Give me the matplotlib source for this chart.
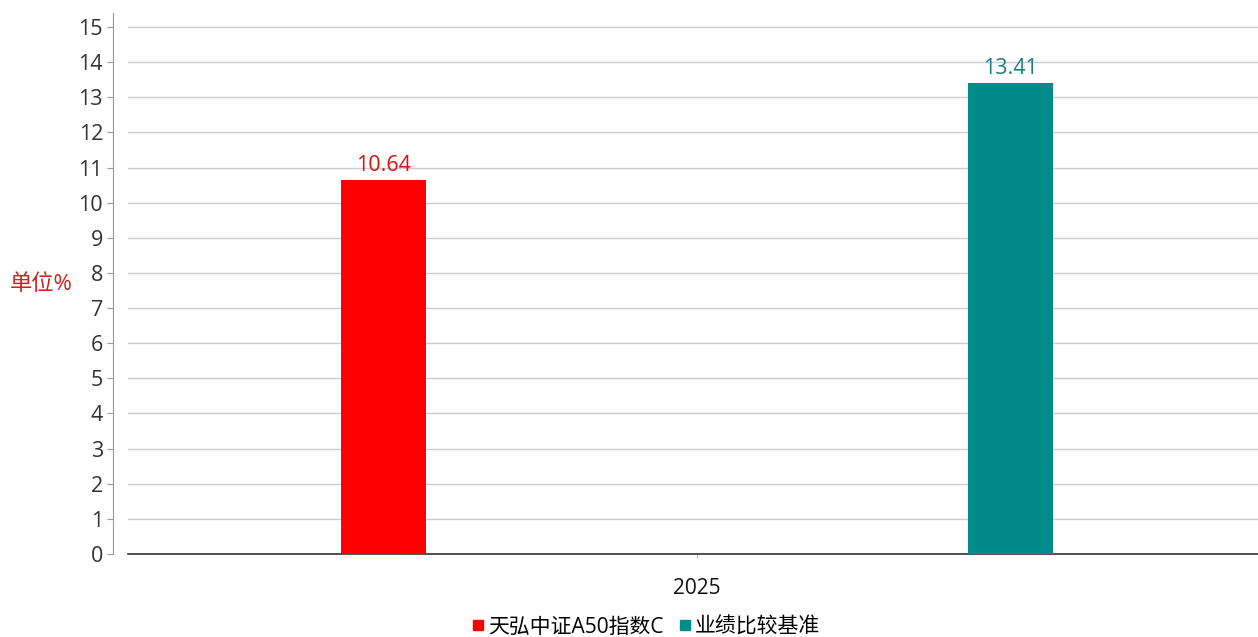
import matplotlib
matplotlib.use("Agg")
import matplotlib.pyplot as plt
from matplotlib.lines import Line2D

plt.rcParams['font.family'] = ['Open Sans', 'Noto Sans CJK SC', 'DejaVu Sans']

categories = ['2025']
series_names = ['天弘中证A50指数C', '业绩比较基准']
series_values = [[10.64], [13.41]]
series_colors = ['#ff0000', '#008b8b']
label_colors = ['#e01010', '#1a7f7f']
y_ticks = list(range(0, 16))

W, H = 1258, 637
fig = plt.figure(figsize=(W / 100, H / 100), dpi=100)
ax = fig.add_axes([128 / W, (H - 554) / H, (1258 - 128) / W, (554 - 13) / H])

offsets = [-0.2755, 0.2755]
bar_w = 0.0747
for i, (name, vals) in enumerate(zip(series_names, series_values)):
    xs = [j + offsets[i] for j in range(len(categories))]
    bars = ax.bar(xs, vals, width=bar_w, color=series_colors[i], label=name, zorder=3)
    for b, v in zip(bars, vals):
        ax.annotate(f'{v:.2f}', (b.get_x() + b.get_width() / 2, v), xytext=(0, 3),
                    textcoords='offset points', ha='center', va='bottom',
                    fontsize=15.5, color=label_colors[i], zorder=4)

ax.set_xlim(-0.5, 0.493)
ax.set_ylim(0, 15.4)
ax.set_yticks(y_ticks)
ax.set_yticklabels([str(t) for t in y_ticks])
ax.yaxis.grid(True, color='#cccccc', linewidth=1.0, zorder=0)
ax.set_axisbelow(True)

ax.set_xticks(range(len(categories)))
ax.set_xticklabels(categories)
ax.tick_params(axis='x', length=3, color='#bbbbbb', pad=14, width=0.8,
               labelsize=15, labelcolor='#111111')
ax.tick_params(axis='y', length=4, color='#999999', pad=3, width=0.8,
               labelsize=15.5, labelcolor='#333333')

for s in ['top', 'right']:
    ax.spines[s].set_visible(False)
ax.spines['left'].set_position(('outward', 11))
ax.spines['left'].set_color('#999999')
ax.spines['bottom'].set_color('#333333')
ax.spines['bottom'].set_linewidth(1.2)

fig.text(10 / W, 1 - 285 / H, '单位%', fontsize=16, color='#d02020', ha='left', va='center')

handles = [Line2D([0], [0], marker='s', linestyle='none', markersize=7,
                  markerfacecolor=c, markeredgecolor=c) for c in series_colors]
fig.legend(handles, series_names, loc='center', bbox_to_anchor=(645 / W, 1 - 627 / H),
           ncol=2, frameon=False, fontsize=15, handletextpad=0.1, columnspacing=0.6,
           handlelength=0.8)

fig.savefig('out.png', dpi=100)
